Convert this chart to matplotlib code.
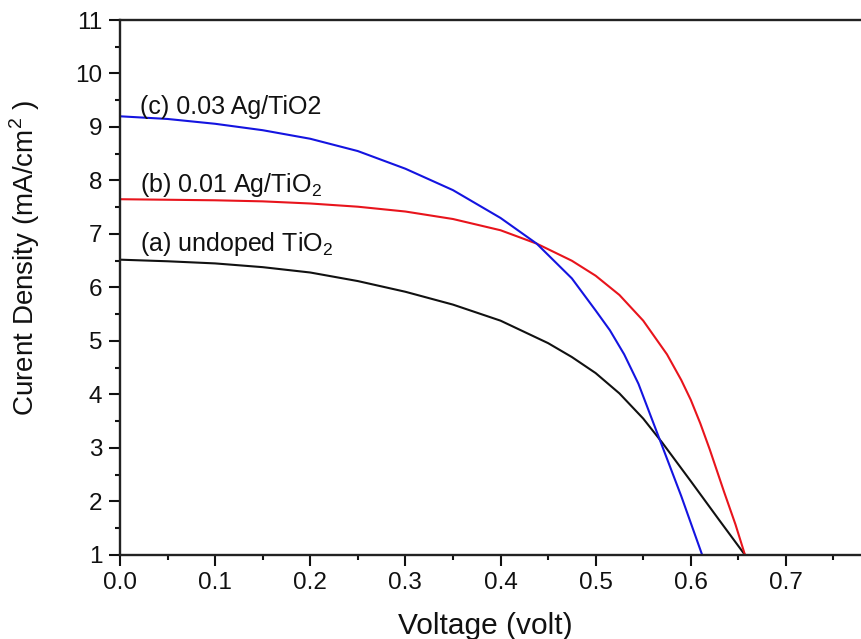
import matplotlib
matplotlib.use("Agg")
import matplotlib.pyplot as plt

plt.rcParams['font.family'] = ['Liberation Sans', 'DejaVu Sans']
plt.rcParams['mathtext.fontset'] = 'custom'
plt.rcParams['mathtext.rm'] = 'Liberation Sans'

# Voltage (V) and current density (mA/cm^2)
v_a = [0.00, 0.05, 0.10, 0.15, 0.20, 0.25, 0.30, 0.35, 0.40, 0.45, 0.475, 0.50, 0.525, 0.55, 0.57, 0.60, 0.63, 0.657]
j_a = [6.52, 6.49, 6.45, 6.38, 6.28, 6.12, 5.92, 5.68, 5.38, 4.96, 4.70, 4.40, 4.02, 3.55, 3.10, 2.38, 1.65, 1.00]

v_b = [0.00, 0.05, 0.10, 0.15, 0.20, 0.25, 0.30, 0.35, 0.40, 0.438, 0.475, 0.50, 0.525, 0.55, 0.575, 0.59, 0.60, 0.61, 0.62, 0.635, 0.647, 0.657]
j_b = [7.65, 7.64, 7.63, 7.61, 7.57, 7.51, 7.42, 7.28, 7.07, 6.82, 6.50, 6.22, 5.86, 5.38, 4.75, 4.27, 3.90, 3.46, 2.97, 2.18, 1.57, 1.00]

v_c = [0.00, 0.05, 0.10, 0.15, 0.20, 0.25, 0.30, 0.35, 0.40, 0.438, 0.475, 0.50, 0.515, 0.53, 0.545, 0.56, 0.575, 0.59, 0.60, 0.612]
j_c = [9.20, 9.15, 9.06, 8.94, 8.78, 8.55, 8.22, 7.82, 7.30, 6.82, 6.17, 5.57, 5.20, 4.75, 4.20, 3.50, 2.80, 2.10, 1.60, 1.00]

labels = ["(a) undoped TiO$_2$", "(b) 0.01 Ag/TiO$_2$", "(c) 0.03 Ag/TiO2"]
label_pos = [(0.021, 6.68), (0.021, 7.79), (0.021, 9.24)]

fig = plt.figure(figsize=(8.62, 6.39), dpi=100)
ax = fig.add_axes([0.1392, 0.1315, 1 - 0.1392, 0.8372])

ax.plot(v_a, j_a, color='#111111', lw=1.5)
ax.plot(v_b, j_b, color='#e8141c', lw=1.5)
ax.plot(v_c, j_c, color='#1414e0', lw=1.5)

for t, (x, y) in zip(labels, label_pos):
    ax.text(x, y, t, fontsize=18, va='baseline', ha='left', color='#111111')

ax.set_xlim(0, 0.780)
ax.set_ylim(1, 11)
ax.set_xticks([0.0, 0.1, 0.2, 0.3, 0.4, 0.5, 0.6, 0.7])
ax.set_xticklabels(["0.0", "0.1", "0.2", "0.3", "0.4", "0.5", "0.6", "0.7"])
ax.set_yticks(range(1, 12))
ax.set_xticks([0.05, 0.15, 0.25, 0.35, 0.45, 0.55, 0.65, 0.75], minor=True)
ax.set_yticks([1.5 + i for i in range(10)], minor=True)
ax.tick_params(which='major', direction='out', length=7.6, width=1.5, labelsize=17.5, colors='#111111', pad=5)
ax.tick_params(which='minor', direction='out', length=3.8, width=1.5, colors='#111111')
ax.spines['right'].set_visible(False)
for s in ['left', 'bottom', 'top']:
    ax.spines[s].set_linewidth(1.7)
    ax.spines[s].set_color('#222222')

ax.set_xlabel("Voltage (volt)", fontsize=21.5, color='#111111')
ax.set_ylabel("Curent Density (mA/cm$^2$ )", fontsize=20, color='#111111')
ax.xaxis.set_label_coords(0.492, -0.106)
ax.yaxis.set_label_coords(-0.105, 0.556)

fig.savefig("out.png", dpi=100)
